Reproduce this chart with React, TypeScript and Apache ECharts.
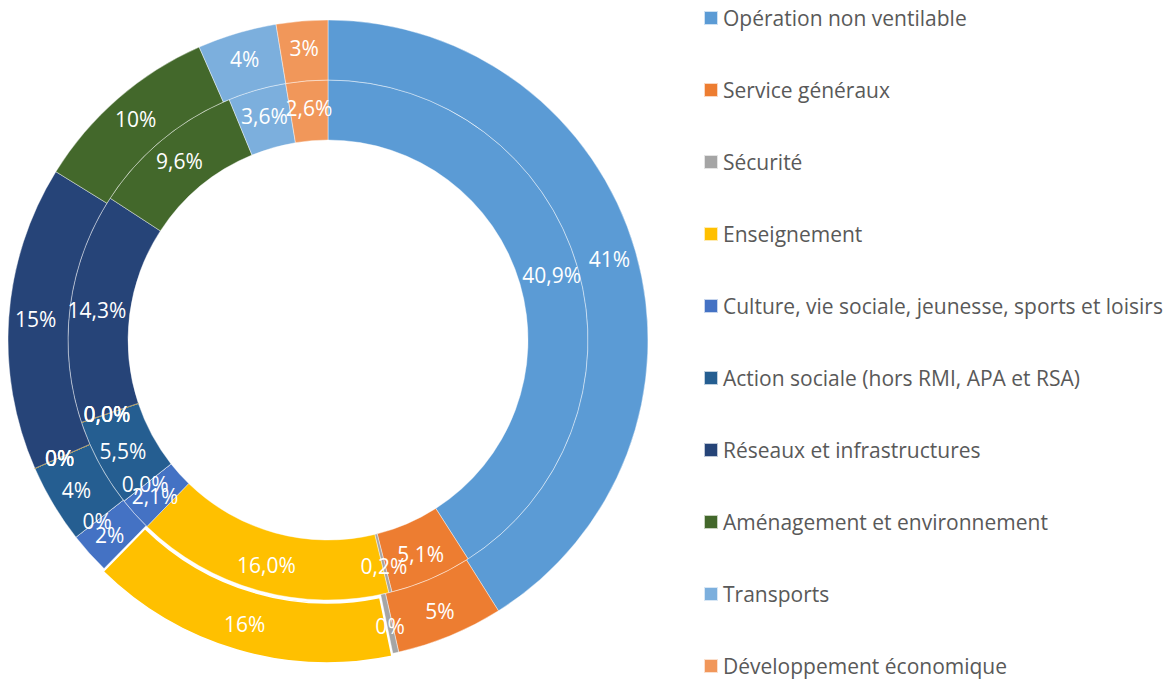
import React, { useEffect, useRef } from 'react';
import * as echarts from 'echarts';

// 14 categories in data order (4 empty ones are not in the legend)
const categories = [
  'Opération non ventilable',
  'Service généraux',
  'Sécurité',
  'Enseignement',
  'Culture, vie sociale, jeunesse, sports et loisirs',
  'Catégorie vide 1',
  'Action sociale (hors RMI, APA et RSA)',
  'Catégorie vide 2',
  'Catégorie vide 3',
  'Catégorie vide 4',
  'Réseaux et infrastructures',
  'Aménagement et environnement',
  'Transports',
  'Développement économique',
];

const legendNames = [
  'Opération non ventilable',
  'Service généraux',
  'Sécurité',
  'Enseignement',
  'Culture, vie sociale, jeunesse, sports et loisirs',
  'Action sociale (hors RMI, APA et RSA)',
  'Réseaux et infrastructures',
  'Aménagement et environnement',
  'Transports',
  'Développement économique',
];

const colors = [
  '#5B9BD5', '#ED7D31', '#A5A5A5', '#FFC000', '#4472C4', '#70AD47', '#255E91',
  '#9E480E', '#636363', '#997300', '#264478', '#43682B', '#7CAFDD', '#F1975A',
];

// inner ring (%, one decimal)
const innerValues = [40.9, 5.1, 0.2, 16.0, 2.1, 0, 5.5, 0, 0, 0, 14.3, 9.6, 3.6, 2.6];
// outer ring (%, shown rounded)
const outerValues = [41.1, 5.4, 0.3, 15.6, 2.1, 0, 4.0, 0, 0, 0, 15.4, 9.6, 4.0, 2.6];

const FONT = 'Open Sans';

export default function App() {
  const ref = useRef<HTMLDivElement>(null);
  useEffect(() => {
    const chart = echarts.init(ref.current!, null, { renderer: 'svg' });
    const itemFor = (vals: number[], outer: boolean) =>
      categories.map((name, i) => {
        const it: any = {
          name,
          value: vals[i],
          itemStyle: { color: colors[i] },
        };
        if (i === 9) {
          it.itemStyle.borderColor = '#997300';
          it.itemStyle.borderWidth = 1;
        }
        if (outer && i === 3) {
          it.selected = true;
          it.itemStyle.borderColor = '#ffffff';
          it.itemStyle.borderWidth = 1.5;
        }
        return it;
      });
    const common = {
      type: 'pie',
      center: [328, 340],
      startAngle: 90,
      clockwise: true,
      avoidLabelOverlap: false,
      minShowLabelAngle: 0,
      labelLayout: { hideOverlap: false },
      animation: false,
      emphasis: { disabled: true },
      labelLine: { show: false },
      itemStyle: { borderColor: 'rgba(255,255,255,0.7)', borderWidth: 0.6 },
    };
    chart.setOption({
      animation: false,
      legend: {
        orient: 'vertical',
        left: 703,
        top: 7.5,
        padding: 0,
        icon: 'rect',
        itemWidth: 14,
        itemHeight: 14,
        itemGap: 51,
        selectedMode: false,
        data: legendNames,
        textStyle: { fontFamily: FONT, fontSize: 21, lineHeight: 21, color: '#595959' },
      },
      series: [
        {
          ...common,
          name: 'inner',
          radius: [200, 260],
          label: {
            show: true,
            position: 'inside',
            color: '#fff',
            fontFamily: FONT,
            fontSize: 21,
            formatter: (p: any) => p.value.toFixed(1).replace('.', ',') + '%',
          },
          data: itemFor(innerValues, false),
        },
        {
          ...common,
          name: 'outer',
          radius: [260, 320],
          selectedMode: 'single',
          selectedOffset: 3,
          label: {
            show: true,
            position: 'inside',
            color: '#fff',
            fontFamily: FONT,
            fontSize: 21,
            formatter: (p: any) => Math.round(p.value) + '%',
          },
          data: itemFor(outerValues, true),
        },
      ],
    });
    return () => chart.dispose();
  }, []);
  return (
    <div
      ref={ref}
      style={{ position: 'fixed', left: 0, top: 0, width: 1167, height: 679, background: '#fff' }}
    />
  );
}
